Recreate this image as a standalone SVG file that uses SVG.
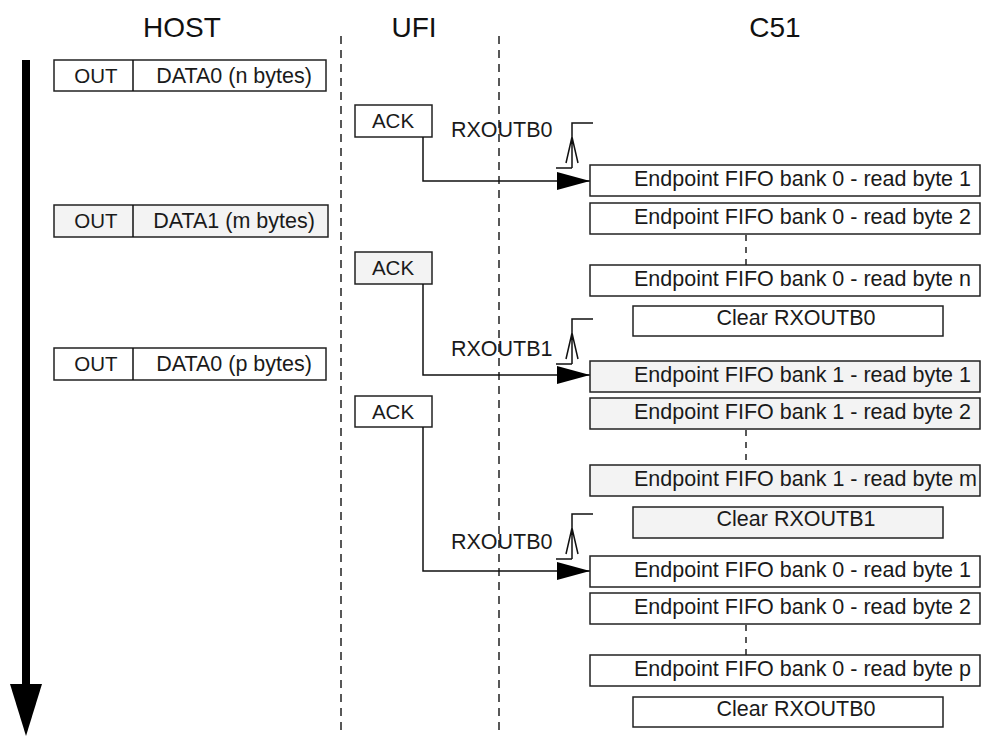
<svg xmlns="http://www.w3.org/2000/svg" width="981" height="736" viewBox="0 0 981 736">
<style>
.t{font-family:"Liberation Sans",Arial,sans-serif;font-size:21.5px;fill:#1a1a1a}
.s{font-family:"Liberation Sans",Arial,sans-serif;font-size:20.5px;fill:#1a1a1a}
.h{font-family:"Liberation Sans",Arial,sans-serif;font-size:28px;fill:#111}
.b{fill:#fff;stroke:#222;stroke-width:1.5}
.g{fill:#f3f3f3;stroke:#222;stroke-width:1.5}
.ln{fill:none;stroke:#111;stroke-width:1.5}
.ds{fill:none;stroke:#222;stroke-width:1.5;stroke-dasharray:8,6}
.dt{fill:none;stroke:#222;stroke-width:1.5;stroke-dasharray:6,6}
</style>
<defs>
<marker id="ah" markerWidth="34" markerHeight="18" refX="33" refY="9" orient="auto" markerUnits="userSpaceOnUse">
<path d="M0,0 L33,9 L0,18 Z" fill="#000"/>
</marker>
<g id="flag">
<path d="M0,0 V-45 H21 M-16,0 H0 M-6,-5 L0,-31 L6,-5" fill="none" stroke="#111" stroke-width="1.5"/>
</g>
</defs>
<rect width="981" height="736" fill="#fff"/>
<g id="headers">
<text class="h" x="182" y="37" text-anchor="middle">HOST</text>
<text class="h" x="414" y="37" text-anchor="middle">UFI</text>
<text class="h" x="775" y="37" text-anchor="middle">C51</text>
</g>
<g id="lifelines">
<line class="ds" x1="341" y1="36" x2="341" y2="736"/>
<line class="ds" x1="499" y1="36" x2="499" y2="736"/>
</g>
<g id="time-arrow">
<line x1="26" y1="60" x2="26" y2="690" stroke="#000" stroke-width="8"/>
<path d="M10,684 L42,684 L26,736 Z" fill="#000"/>
</g>
<g id="host-out0">
<rect class="b" x="54" y="60" width="272" height="31"/>
<line class="ln" x1="133" y1="60" x2="133" y2="91"/>
<text class="s" x="96" y="83" text-anchor="middle">OUT</text>
<text class="t" x="234" y="83" text-anchor="middle">DATA0 (n bytes)</text>
</g>
<g id="host-out1">
<rect class="g" x="54" y="205" width="274" height="32"/>
<line class="ln" x1="133" y1="205" x2="133" y2="237"/>
<text class="s" x="96" y="228" text-anchor="middle">OUT</text>
<text class="t" x="234" y="228" text-anchor="middle">DATA1 (m bytes)</text>
</g>
<g id="host-out2">
<rect class="b" x="54" y="348" width="272" height="32"/>
<line class="ln" x1="133" y1="348" x2="133" y2="380"/>
<text class="s" x="96" y="371" text-anchor="middle">OUT</text>
<text class="t" x="234" y="371" text-anchor="middle">DATA0 (p bytes)</text>
</g>
<g id="ack0">
<rect class="b" x="355" y="105" width="77" height="32"/>
<text class="s" x="393" y="128" text-anchor="middle">ACK</text>
</g>
<g id="ack1">
<rect class="g" x="355" y="252" width="77" height="32"/>
<text class="s" x="393" y="275" text-anchor="middle">ACK</text>
</g>
<g id="ack2">
<rect class="b" x="355" y="396" width="77" height="31"/>
<text class="s" x="393" y="419" text-anchor="middle">ACK</text>
</g>
<g id="connectors">
<path class="ln" d="M423,137 V181 H590" marker-end="url(#ah)"/>
<path class="ln" d="M423,284 V375 H590" marker-end="url(#ah)"/>
<path class="ln" d="M423,427 V571 H590" marker-end="url(#ah)"/>
<use href="#flag" x="572" y="168"/>
<use href="#flag" x="572" y="364"/>
<use href="#flag" x="572" y="559"/>
<text class="t" x="451" y="137">RXOUTB0</text>
<text class="t" x="451" y="356">RXOUTB1</text>
<text class="t" x="451" y="549">RXOUTB0</text>
<line class="dt" x1="746" y1="235" x2="746" y2="265"/>
<line class="dt" x1="746" y1="430" x2="746" y2="465"/>
<line class="dt" x1="746" y1="625" x2="746" y2="655"/>
</g>
<g id="b0-1"><rect class="b" x="590" y="165" width="390" height="31"/><text class="t" x="971" y="186" text-anchor="end">Endpoint FIFO bank 0 - read byte 1</text></g>
<g id="b0-2"><rect class="b" x="590" y="203" width="390" height="31"/><text class="t" x="971" y="224" text-anchor="end">Endpoint FIFO bank 0 - read byte 2</text></g>
<g id="b0-n"><rect class="b" x="590" y="265" width="390" height="31"/><text class="t" x="971" y="286" text-anchor="end">Endpoint FIFO bank 0 - read byte n</text></g>
<g id="clr0"><rect class="b" x="633" y="306" width="310" height="30"/><text class="t" x="796" y="325" text-anchor="middle">Clear RXOUTB0</text></g>
<g id="b1-1"><rect class="g" x="590" y="361" width="390" height="31"/><text class="t" x="971" y="382" text-anchor="end">Endpoint FIFO bank 1 - read byte 1</text></g>
<g id="b1-2"><rect class="g" x="590" y="398" width="390" height="31"/><text class="t" x="971" y="419" text-anchor="end">Endpoint FIFO bank 1 - read byte 2</text></g>
<g id="b1-m"><rect class="g" x="590" y="465" width="390" height="31"/><text class="t" x="977" y="486" text-anchor="end">Endpoint FIFO bank 1 - read byte m</text></g>
<g id="clr1"><rect class="g" x="633" y="507" width="310" height="31"/><text class="t" x="796" y="526" text-anchor="middle">Clear RXOUTB1</text></g>
<g id="b0-1b"><rect class="b" x="590" y="556" width="390" height="31"/><text class="t" x="971" y="577" text-anchor="end">Endpoint FIFO bank 0 - read byte 1</text></g>
<g id="b0-2b"><rect class="b" x="590" y="593" width="390" height="31"/><text class="t" x="971" y="614" text-anchor="end">Endpoint FIFO bank 0 - read byte 2</text></g>
<g id="b0-p"><rect class="b" x="590" y="655" width="390" height="31"/><text class="t" x="971" y="676" text-anchor="end">Endpoint FIFO bank 0 - read byte p</text></g>
<g id="clr0b"><rect class="b" x="633" y="697" width="310" height="30"/><text class="t" x="796" y="716" text-anchor="middle">Clear RXOUTB0</text></g>
</svg>
